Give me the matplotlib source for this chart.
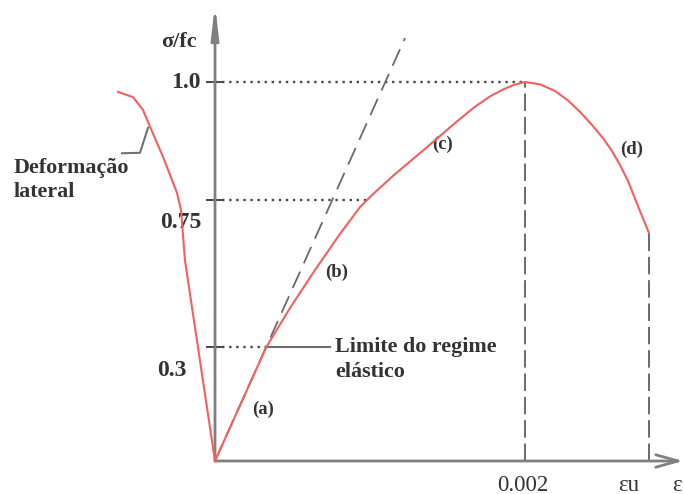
import numpy as np
import matplotlib
matplotlib.use("Agg")
import matplotlib.pyplot as plt

# stress-strain curve of concrete in compression (schematic)
# main branch: strain, sigma/fc
eps_main = [0.0, 0.00033, 0.000484, 0.000645, 0.000806, 0.000935, 0.001013,
            0.001148, 0.001368, 0.001561, 0.001671, 0.001774, 0.001858, 0.001929,
            0.002, 0.002097, 0.002194, 0.002277, 0.002355, 0.002432, 0.002503,
            0.002561, 0.002613, 0.002665, 0.002729, 0.0028]
sig_main = [0.0, 0.30, 0.420, 0.536, 0.646, 0.728, 0.7605,
            0.801, 0.862, 0.9165, 0.946, 0.9695, 0.984, 0.994,
            1.0, 0.995, 0.981, 0.961, 0.9366, 0.909, 0.881,
            0.854, 0.824, 0.790, 0.731, 0.649]

# lateral strain branch (negative strain side)
eps_lat = [0.0, -0.000194, -0.000219, -0.000245, -0.000335, -0.000419,
           -0.000465, -0.000529, -0.000626]
sig_lat = [0.0, 0.566, 0.719, 0.765, 0.841, 0.905, 0.941, 0.968, 0.979]

# elastic tangent through the origin
eps_tan = [0.0, 0.001226]
sig_tan = [0.0, 1.116]

# reference levels and strains
sig_ticks = [0.3, 0.75, 1.0]
sig_tick_labels = ["0.3", "0.75", "1.0"]
eps_peak = 0.002
eps_u = 0.0028
eps_at_075 = 0.00098
eps_elastic = 0.00033

# schematic stress axis: upper band slightly compressed
knots_data = [-10.0, 0.0, 0.3, 0.75, 1.0, 10.0]
knots_draw = [-10.0, 0.0, 0.3, 0.6887, 1.0, 10.0]


def fwd(v):
    return np.interp(v, knots_data, knots_draw)


def inv(v):
    return np.interp(v, knots_draw, knots_data)


RED = "#f26060"
AXIS = "#808080"
DOT = "#484848"
DASH = "#6a6a6a"
TXT = "#333333"
serif = ["Liberation Serif", "DejaVu Serif"]

fig = plt.figure(figsize=(6.84, 4.94), dpi=100)
ax = fig.add_axes([0, 0, 1, 1])
ax.set_yscale("function", functions=(fwd, inv))
ax.set_xlim(-215 / 155000, 469 / 155000)
ax.set_ylim(inv(-33 / 379), inv(461 / 379))
ax.axis("off")

# axes with arrows
ax.annotate("", xy=(0, 1.205), xytext=(0, 0),
            arrowprops=dict(arrowstyle="-|>,head_length=1.9,head_width=0.22",
                            color=AXIS, lw=2, shrinkA=0, shrinkB=0))
ax.annotate("", xy=(0.00302, 0), xytext=(0, 0),
            arrowprops=dict(arrowstyle="->,head_length=1.6,head_width=0.45",
                            color=AXIS, lw=2, shrinkA=0, shrinkB=0))

# ticks on the stress axis
tick_half = 8 / 155000
for s in sig_ticks:
    ax.plot([-tick_half, tick_half], [s, s], color=DOT, lw=1.4)

# dotted guide lines
dots = (0, (1, 2))
ax.plot([0, eps_peak], [1.0, 1.0], color=DOT, lw=1.7, ls=dots)
ax.plot([0, eps_at_075], [0.75, 0.75], color=DOT, lw=1.7, ls=dots)
ax.plot([0, eps_elastic], [0.3, 0.3], color=DOT, lw=1.7, ls=dots)

# vertical dashed lines at peak and ultimate strain
ax.plot([eps_peak, eps_peak], [0, 1.0], color=DASH, lw=1.4, ls=(0, (9, 3)))
ax.plot([eps_u, eps_u], [0, sig_main[-1]], color=DASH, lw=1.4, ls=(0, (9, 3)))

# elastic tangent
ax.plot(eps_tan, sig_tan, color=DASH, lw=1.3, ls=(0, (10, 5)))

# curves
ax.plot(eps_main, sig_main, color=RED, lw=1.5, zorder=5)
ax.plot(eps_lat, sig_lat, color=RED, lw=1.5, zorder=5)

# leader lines
ax.plot([eps_elastic, 0.000742], [0.3, 0.3], color="#707070", lw=1.5)
ax.plot([-0.000432, -0.000484, -0.0006], [0.903, 0.850, 0.849], color="#707070", lw=1.5)

# text
tk = dict(family=serif, weight="bold", color=TXT, fontsize=17)
ax.annotate(sig_tick_labels[2], (-0.00009, 1.0), ha="right", va="center", **tk)
ax.annotate(sig_tick_labels[1], (-0.00009, 0.75), xytext=(0, -23),
            textcoords="offset pixels", ha="right", va="center", **tk)
ax.annotate(sig_tick_labels[0], (-0.000187, 0.3), xytext=(0, -23),
            textcoords="offset pixels", ha="right", va="center", **tk)

ax.text(-0.000232, 1.105, "σ/fc", ha="center", va="center", **dict(tk, fontsize=16))

xl = dict(family=serif, color=TXT, fontsize=16.5)
ax.annotate("0.002", (eps_peak, 0), xytext=(-2, -24), textcoords="offset pixels",
            ha="center", va="center", **xl)
ax.annotate("εu", (eps_u, 0), xytext=(-20, -24), textcoords="offset pixels",
            ha="center", va="center", **xl)
ax.annotate("ε", (0.003, 0), xytext=(-8, -24), textcoords="offset pixels",
            ha="left", va="center", **xl)

lb = dict(family=serif, weight="bold", color=TXT, fontsize=15.8)
ax.text(0.000774, 0.30, "Limite do regime", ha="left", va="center", **lb)
ax.text(0.000774, 0.235, "elástico", ha="left", va="center", **lb)
ax.text(-0.0013, 0.818, "Deformação", ha="left", va="center", **lb)
ax.text(-0.0013, 0.767, "lateral", ha="left", va="center", **lb)

ph = dict(family=serif, weight="bold", color=TXT, fontsize=13.5)
ax.text(0.00031, 0.135, "(a)", ha="center", va="center", **ph)
ax.text(0.000787, 0.53, "(b)", ha="center", va="center", **ph)
ax.text(0.001465, 0.867, "(c)", ha="center", va="center", **ph)
ax.text(0.00269, 0.857, "(d)", ha="center", va="center", **ph)

fig.savefig("out.png", dpi=100)
